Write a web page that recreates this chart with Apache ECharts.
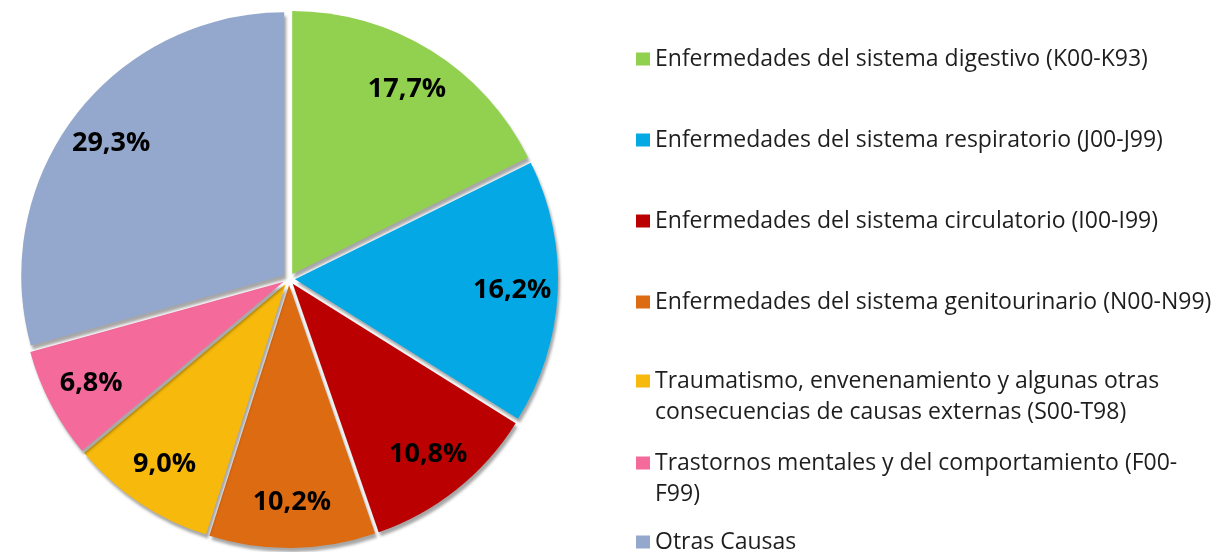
<!DOCTYPE html>
<html>
<head>
<meta charset="utf-8">
<script src="https://cdn.jsdelivr.net/npm/echarts@6/dist/echarts.min.js"></script>
<style>
  html, body { margin: 0; padding: 0; background: #fff; }
  #chart { width: 1222px; height: 552px; }
</style>
</head>
<body>
<div id="chart"></div>
<script>
  // causas de hospitalización, % del total
  const categories = [
    'Enfermedades del sistema digestivo (K00-K93)',
    'Enfermedades del sistema respiratorio (J00-J99)',
    'Enfermedades del sistema circulatorio (I00-I99)',
    'Enfermedades del sistema genitourinario (N00-N99)',
    'Traumatismo, envenenamiento y algunas otras\nconsecuencias de causas externas (S00-T98)',
    'Trastornos mentales y del comportamiento (F00-\nF99)',
    'Otras Causas'
  ]
  const values = [17.7, 16.2, 10.8, 10.2, 9.0, 6.8, 29.3]
  const colors = ['#92D050', '#03A8E4', '#BA0000', '#DD6B12', '#F6B90C', '#F46A9B', '#93A8CC']

  const legendTops = [43.5, 124.5, 205.5, 286.5, 334.5, 416.5, 526.5]
  const center = [289, 279]
  const radius = 263

  const chart = echarts.init(document.getElementById('chart'))

  const pieData = categories.map((name, i) => ({
    name: name,
    value: values[i],
    selected: true,
    itemStyle: { color: colors[i] }
  }))

  // el icono queda centrado en el bloque de texto; una línea vacía arriba
  // lo deja alineado con la primera línea en los textos de dos líneas
  const legends = categories.map((name, i) => ({
    data: [name],
    orient: 'vertical',
    left: 636,
    top: legendTops[i],
    padding: 0,
    icon: 'rect',
    itemWidth: 14,
    itemHeight: 13,
    selectedMode: false,
    formatter: n => n.indexOf('\n') >= 0 ? '\n' + n : n,
    textStyle: {
      fontFamily: 'Open Sans',
      fontSize: 23,
      color: '#1e1e1e',
      lineHeight: 31
    }
  }))

  chart.setOption({
    animation: false,
    color: colors,
    legend: legends,
    series: [{
      type: 'pie',
      center: center,
      radius: [0, radius],
      startAngle: 90,
      selectedMode: 'multiple',
      selectedOffset: 6,
      silent: true,
      label: { show: false },
      labelLine: { show: false },
      itemStyle: {
        shadowColor: 'rgba(0,0,0,0.35)',
        shadowBlur: 3,
        shadowOffsetX: 2,
        shadowOffsetY: 4
      },
      data: pieData
    }, {
      // anillo transparente solo para colocar las etiquetas
      type: 'pie',
      center: center,
      radius: [166, radius],
      startAngle: 90,
      selectedMode: 'multiple',
      selectedOffset: 6,
      silent: true,
      legendHoverLink: false,
      itemStyle: { color: 'rgba(0,0,0,0)' },
      label: {
        show: true,
        position: 'inside',
        fontFamily: 'Open Sans',
        fontWeight: 'bold',
        fontSize: 27,
        color: '#000',
        formatter: p => p.value.toFixed(1).replace('.', ',') + '%'
      },
      labelLine: { show: false },
      data: categories.map((name, i) => ({ name: name, value: values[i], selected: true }))
    }]
  })
</script>
</body>
</html>
